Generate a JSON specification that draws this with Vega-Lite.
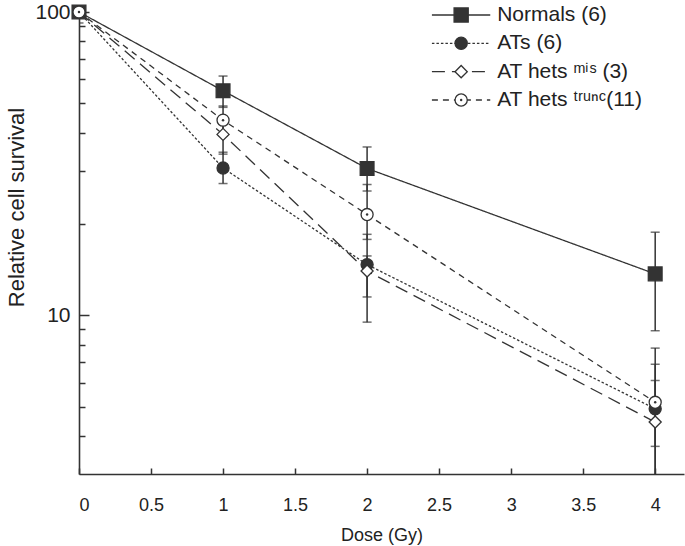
{
  "$schema": "https://vega.github.io/schema/vega-lite/v6.json",
  "width": 605,
  "height": 462,
  "autosize": {"type": "none"},
  "padding": {"left": 79, "top": 12, "right": 1, "bottom": 72},
  "config": {
    "font": "Liberation Sans",
    "view": {"stroke": null},
    "axis": {"grid": false, "domainColor": "#333", "domainWidth": 1.6, "tickColor": "#333", "tickWidth": 1.5, "labelColor": "#222", "titleColor": "#222", "labelFontSize": 18, "titleFontSize": 18, "titleFontWeight": "normal"}
  },
  "datasets": {
    "survival": [
      {"group": "Normals", "dose": 0, "survival": 100, "lo": 92, "hi": 100},
      {"group": "Normals", "dose": 1, "survival": 55, "lo": 48.5, "hi": 61.5},
      {"group": "Normals", "dose": 2, "survival": 30.5, "lo": 25.7, "hi": 35.9},
      {"group": "Normals", "dose": 4, "survival": 13.7, "lo": 8.9, "hi": 18.8},
      {"group": "ATs", "dose": 0, "survival": 100, "lo": 100, "hi": 100},
      {"group": "ATs", "dose": 1, "survival": 30.6, "lo": 27.2, "hi": 34.5},
      {"group": "ATs", "dose": 2, "survival": 14.7, "lo": 9.5, "hi": 18.5},
      {"group": "ATs", "dose": 4, "survival": 4.92, "lo": 2.0, "hi": 7.8},
      {"group": "mis", "dose": 0, "survival": 100, "lo": 100, "hi": 100},
      {"group": "mis", "dose": 1, "survival": 39.5, "lo": 34, "hi": 45},
      {"group": "mis", "dose": 2, "survival": 14.0, "lo": 11.5, "hi": 15.7},
      {"group": "mis", "dose": 4, "survival": 4.45, "lo": 2.8, "hi": 6.1},
      {"group": "trunc", "dose": 0, "survival": 100, "lo": 100, "hi": 100},
      {"group": "trunc", "dose": 1, "survival": 44, "lo": 39, "hi": 49},
      {"group": "trunc", "dose": 2, "survival": 21.5, "lo": 17.8, "hi": 27.0},
      {"group": "trunc", "dose": 4, "survival": 5.17, "lo": 3.7, "hi": 6.9}
    ],
    "legend": [
      {"group": "Normals", "label": "Normals (6)"},
      {"group": "ATs", "label": "ATs (6)"},
      {"group": "mis", "label": "AT hets ᵐⁱˢ (3)"},
      {"group": "trunc", "label": "AT hets ᵗʳᵘⁿᶜ(11)"}
    ]
  },
  "layer": [
    {
      "data": {"name": "survival"},
      "layer": [
        {
          "mark": {"type": "line", "color": "#333", "strokeWidth": 1.3},
          "encoding": {
            "x": {"field": "dose", "type": "quantitative", "scale": {"domain": [0, 4.2], "nice": false, "zero": false},
              "axis": {"values": [0, 0.5, 1, 1.5, 2, 2.5, 3, 3.5, 4], "format": "~g", "tickSize": -6, "labelPadding": 28, "title": "Dose (Gy)", "titlePadding": 12}},
            "y": {"field": "survival", "type": "quantitative", "scale": {"type": "log", "domain": [3, 100], "nice": false},
              "axis": {"orient": "left", "values": [4, 5, 6, 7, 8, 9, 20, 30, 40, 50, 60, 70, 80, 90], "tickSize": -6, "labels": false, "domain": false, "title": null}},
            "detail": {"field": "group"},
            "strokeDash": {"field": "group", "type": "nominal", "legend": null,
              "scale": {"domain": ["Normals", "ATs", "mis", "trunc"], "range": [[1, 0], [2.5, 2], [13, 7], [6, 5]]}}
          }
        },
        {
          "mark": {"type": "rule", "color": "#333", "strokeWidth": 1.5, "clip": true},
          "encoding": {
            "x": {"field": "dose", "type": "quantitative"},
            "y": {"field": "lo", "type": "quantitative",
              "axis": {"orient": "left", "values": [10, 100], "format": "d", "tickSize": -10, "labelPadding": 19, "labelFontSize": 21, "title": "Relative cell survival", "titleFontSize": 22, "titleX": -63, "titleY": 195, "titleAngle": -90, "titleAlign": "center", "titleBaseline": "middle"}},
            "y2": {"field": "hi"}
          }
        },
        {
          "mark": {"type": "tick", "orient": "horizontal", "color": "#333", "size": 9, "thickness": 1.5, "clip": true},
          "encoding": {
            "x": {"field": "dose", "type": "quantitative"},
            "y": {"field": "lo", "type": "quantitative", "axis": null}
          }
        },
        {
          "mark": {"type": "tick", "orient": "horizontal", "color": "#333", "size": 9, "thickness": 1.5, "clip": true},
          "encoding": {
            "x": {"field": "dose", "type": "quantitative"},
            "y": {"field": "hi", "type": "quantitative", "axis": null}
          }
        },
        {
          "mark": {"type": "point", "filled": true, "stroke": "#333", "strokeWidth": 1.3, "opacity": 1},
          "encoding": {
            "x": {"field": "dose", "type": "quantitative"},
            "y": {"field": "survival", "type": "quantitative", "axis": null},
            "shape": {"field": "group", "type": "nominal", "legend": null,
              "scale": {"domain": ["Normals", "ATs", "mis", "trunc"], "range": ["square", "circle", "diamond", "circle"]}},
            "fill": {"condition": {"test": "datum.group === 'Normals' || datum.group === 'ATs'", "value": "#333"}, "value": "#fff"},
            "size": {"condition": {"test": "datum.group === 'Normals'", "value": 190}, "value": 145}
          }
        },
        {
          "transform": [{"filter": "datum.group === 'trunc'"}],
          "mark": {"type": "point", "filled": true, "color": "#333", "size": 6, "opacity": 1},
          "encoding": {
            "x": {"field": "dose", "type": "quantitative"},
            "y": {"field": "survival", "type": "quantitative", "axis": null}
          }
        }
      ],
      "resolve": {"axis": {"y": "independent"}}
    },
    {
      "data": {"name": "legend"},
      "encoding": {
        "y": {"field": "group", "type": "nominal", "axis": null,
          "scale": {"type": "point", "domain": ["Normals", "ATs", "mis", "trunc"], "range": [3, 88], "padding": 0}}
      },
      "layer": [
        {
          "mark": {"type": "rule", "color": "#333", "strokeWidth": 1.3},
          "encoding": {
            "x": {"datum": 2.45, "type": "quantitative"},
            "x2": {"datum": 2.855},
            "strokeDash": {"field": "group", "type": "nominal", "legend": null}
          }
        },
        {
          "mark": {"type": "point", "filled": true, "stroke": "#333", "strokeWidth": 1.3, "opacity": 1},
          "encoding": {
            "x": {"datum": 2.653, "type": "quantitative"},
            "shape": {"field": "group", "type": "nominal", "legend": null},
            "fill": {"condition": {"test": "datum.group === 'Normals' || datum.group === 'ATs'", "value": "#333"}, "value": "#fff"},
            "size": {"condition": {"test": "datum.group === 'Normals'", "value": 200}, "value": 150}
          }
        },
        {
          "transform": [{"filter": "datum.group === 'trunc'"}],
          "mark": {"type": "point", "filled": true, "color": "#333", "size": 6, "opacity": 1},
          "encoding": {
            "x": {"datum": 2.653, "type": "quantitative"}
          }
        },
        {
          "mark": {"type": "text", "align": "left", "baseline": "middle", "fontSize": 21, "color": "#222"},
          "encoding": {
            "x": {"datum": 2.903, "type": "quantitative"},
            "text": {"field": "label"}
          }
        }
      ]
    }
  ],
  "resolve": {"scale": {"y": "independent"}}
}
